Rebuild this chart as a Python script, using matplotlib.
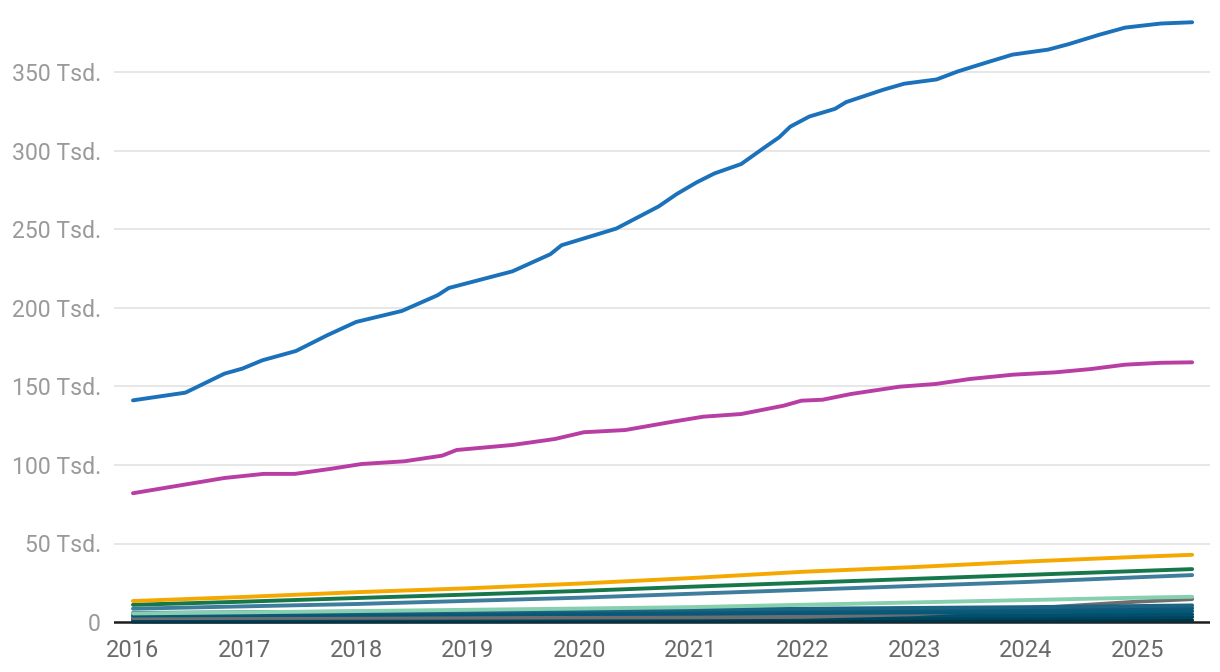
import matplotlib.pyplot as plt
from matplotlib.ticker import FuncFormatter

plt.rcParams['font.family'] = ['Roboto', 'DejaVu Sans']

# Werte in Tsd. (Dezimaljahre)
blau_x = [2016.0, 2016.47, 2016.82, 2016.98, 2017.16, 2017.46, 2017.74, 2018.0,
          2018.41, 2018.73, 2018.83, 2019.40, 2019.74, 2019.84, 2020.33, 2020.71,
          2020.87, 2021.05, 2021.21, 2021.45, 2021.66, 2021.79, 2021.89, 2022.06,
          2022.29, 2022.39, 2022.72, 2022.91, 2023.20, 2023.39, 2023.63, 2023.88,
          2024.20, 2024.38, 2024.66, 2024.89, 2025.21, 2025.49]
blau = [141.1, 146, 158.1, 161.3, 166.6, 172.5, 182.5, 191,
        198, 208, 212.6, 223.2, 234.1, 239.8, 250.4, 264.5,
        272.3, 279.8, 285.5, 291.5, 302.1, 308.5, 315.3, 321.7,
        326.6, 330.9, 338.7, 342.6, 345.3, 350.4, 355.7, 361.1,
        364.3, 367.7, 373.8, 378.3, 380.9, 381.7]

pink_x = [2016.0, 2016.82, 2017.17, 2017.45, 2017.77, 2018.05, 2018.43, 2018.77,
          2018.90, 2019.40, 2019.78, 2020.04, 2020.41, 2020.86, 2021.11, 2021.45,
          2021.83, 2021.99, 2022.18, 2022.43, 2022.87, 2023.19, 2023.50, 2023.88,
          2024.26, 2024.58, 2024.89, 2025.21, 2025.49]
pink = [82.0, 91.7, 94.3, 94.3, 97.5, 100.6, 102.3, 105.9,
        109.5, 112.7, 116.5, 120.8, 122.2, 127.8, 130.7, 132.4,
        137.7, 140.9, 141.5, 145.1, 149.8, 151.5, 154.7, 157.4,
        158.9, 161.0, 163.8, 165.0, 165.3]

jahre = [2016, 2017, 2018, 2019, 2020, 2021, 2022, 2023, 2024, 2025, 2025.49]
orange = [13.4, 16, 19, 21.5, 24.5, 28, 32, 35, 38.5, 41.5, 42.8]
gruen = [11, 13, 15.3, 17.5, 19.8, 22.5, 25, 27.5, 30, 32.5, 33.7]
stahlblau = [8.5, 10, 11.5, 13.5, 15.5, 18, 20.5, 23, 25.5, 28.5, 29.9]
mint = [5.5, 6.2, 7, 7.8, 8.6, 9.5, 11, 12.5, 14, 15.5, 16.1]
grau = [2.5, 2.6, 2.7, 2.8, 2.9, 3, 3.3, 5, 8.5, 13, 14.6]
teal1 = [5.8, 6.2, 6.6, 7, 7.5, 8, 8.5, 9, 9.5, 10.2, 10.6]
teal2 = [5.0, 5.3, 5.6, 6, 6.4, 6.8, 7.2, 7.6, 8, 8.5, 8.8]
teal3 = [4.2, 4.4, 4.6, 4.9, 5.2, 5.5, 5.8, 6.1, 6.4, 6.8, 7.0]
teal4 = [3.0, 3.1, 3.2, 3.4, 3.6, 3.8, 4, 4.2, 4.4, 4.7, 4.9]
teal5 = [1.6, 1.7, 1.8, 1.9, 2, 2.2, 2.4, 2.6, 2.8, 3, 3.2]
teal6 = [0.4, 0.4, 0.5, 0.5, 0.6, 0.6, 0.7, 0.8, 0.9, 1, 1.1]

y_ticks = [0, 50, 100, 150, 200, 250, 300, 350]
x_ticks = list(range(2016, 2026))

fig = plt.figure(figsize=(12.2, 6.72), dpi=100)
ax = fig.add_axes([114 / 1220, 46 / 672, 1096 / 1220, 616 / 672])

lw = 2.8
kw = dict(lw=lw, solid_capstyle='round', solid_joinstyle='round')
ax.plot(jahre, teal6, color='#003447', **kw)
ax.plot(jahre, teal5, color='#00445e', **kw)
ax.plot(jahre, teal4, color='#01506b', **kw)
ax.plot(jahre, grau, color='#6e6e6e', **kw)
ax.plot(jahre, teal3, color='#06587a', **kw)
ax.plot(jahre, teal2, color='#0d5a78', **kw)
ax.plot(jahre, teal1, color='#1c6483', **kw)
ax.plot(jahre, mint, color='#86d0b0', **kw)
ax.plot(jahre, stahlblau, color='#3f7d9c', **kw)
ax.plot(jahre, gruen, color='#15774a', **kw)
ax.plot(jahre, orange, color='#f5a800', **kw)
ax.plot(pink_x, pink, color='#b83ea3', **kw)
ax.plot(blau_x, blau, color='#1b72bb', **kw)

ax.axhline(0, color='#1e1e1e', lw=1.8, zorder=1)

ax.set_xlim(2015.83, 2025.65)
ax.set_ylim(-2.5, 389.5)
ax.set_yticks(y_ticks)
ax.set_xticks(x_ticks)
ax.yaxis.set_major_formatter(FuncFormatter(lambda v, p: '0' if v == 0 else f'{int(v)} Tsd.'))

ax.grid(axis='y', color='#e3e3e3', lw=1.2, zorder=0)
ax.set_axisbelow(True)
for s in ax.spines.values():
    s.set_visible(False)
ax.tick_params(axis='both', length=0)
ax.tick_params(axis='y', labelsize=16.6, labelcolor='#9a9a9a', pad=9.4)
ax.tick_params(axis='x', labelsize=17, labelcolor='#6a6a6a', pad=9.5)

fig.savefig('out.png', dpi=100)
